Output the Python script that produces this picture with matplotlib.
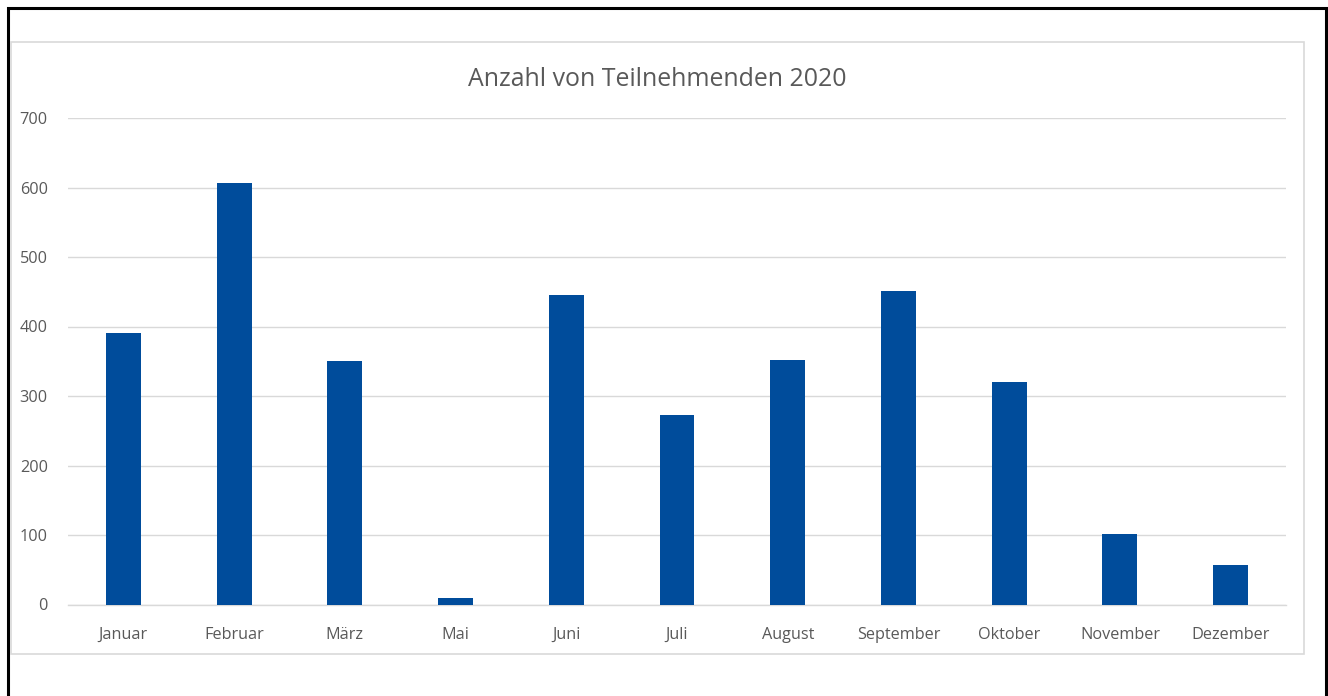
import matplotlib.pyplot as plt
from matplotlib.patches import Rectangle

months = ['Januar', 'Februar', 'März', 'Mai', 'Juni', 'Juli', 'August',
          'September', 'Oktober', 'November', 'Dezember']
teilnehmende = [391, 607, 351, 10, 445, 273, 352, 451, 320, 102, 57]
y_ticks = [0, 100, 200, 300, 400, 500, 600, 700]

W, H = 1328, 696
plt.rcParams['font.family'] = ['Open Sans', 'DejaVu Sans']

fig = plt.figure(figsize=(W / 100, H / 100), dpi=100)

# outer black frame and inner gray chart border (pixel coords -> figure coords)
def fx(px):
    return px / W

def fy(py):
    return 1 - py / H

fig.patches.append(Rectangle((fx(8), fy(720)), fx(1326) - fx(8), fy(8) - fy(720),
                             transform=fig.transFigure, fill=False,
                             edgecolor='black', linewidth=2.2, clip_on=False))
fig.patches.append(Rectangle((fx(10.5), fy(654)), fx(1304) - fx(10.5), fy(42) - fy(654),
                             transform=fig.transFigure, fill=False,
                             edgecolor='#d9d9d9', linewidth=1.2))

ax = fig.add_axes([fx(68), fy(604.5), fx(1286) - fx(68), fy(118) - fy(604.5)])

x = range(len(months))
ax.bar(x, teilnehmende, width=0.316, color='#004c9b', zorder=3)

ax.set_xlim(-0.5, len(months) - 0.5)
ax.set_ylim(0, 700)
ax.set_yticks(y_ticks)
ax.set_xticks(list(x))
ax.set_xticklabels(months)
ax.grid(axis='y', color='#d9d9d9', linewidth=1.0, zorder=0)
ax.set_axisbelow(True)

for s in ['top', 'right', 'left']:
    ax.spines[s].set_visible(False)
ax.spines['bottom'].set_color('#d9d9d9')
ax.spines['bottom'].set_linewidth(1.0)

ax.tick_params(axis='both', length=0, labelsize=11.7, colors='#595959')
ax.tick_params(axis='y', pad=14.5)
ax.tick_params(axis='x', pad=16)

fig.text((fx(10) + fx(1304)) / 2, fy(80), 'Anzahl von Teilnehmenden 2020',
         ha='center', va='center', fontsize=17.9, color='#595959')

fig.savefig('out.png', dpi=100)
